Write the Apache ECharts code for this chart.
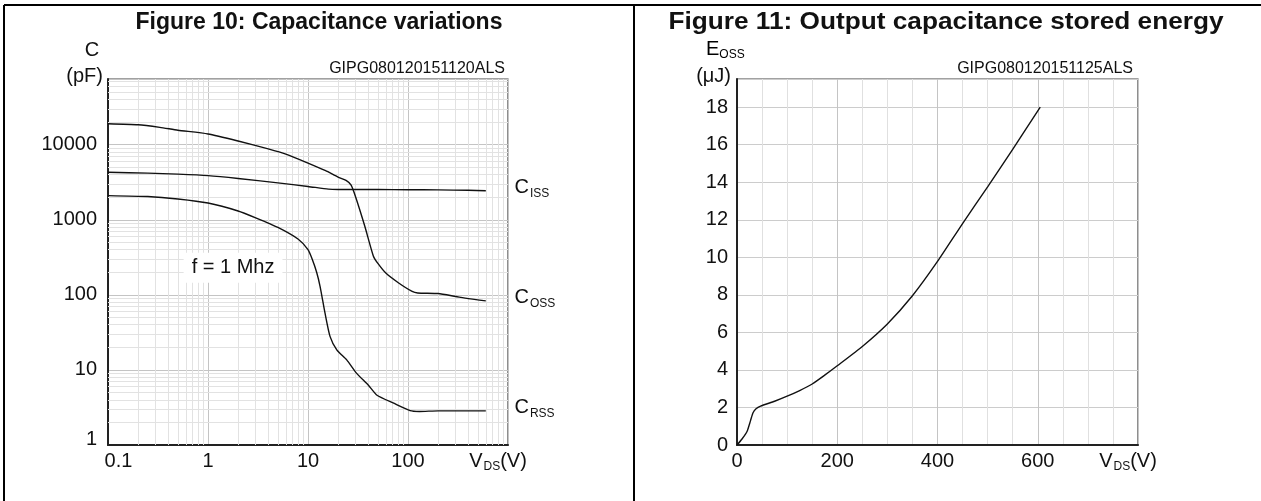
<!DOCTYPE html>
<html><head><meta charset="utf-8">
<script src="https://cdn.jsdelivr.net/npm/echarts@6/dist/echarts.min.js"></script>
<style>html,body{margin:0;padding:0;background:#fff}#c{width:1261px;height:501px}</style>
</head><body><div id="c"></div>
<script>
// ---------- Figure 10: capacitance vs VDS (log-log) ----------
const cissV = [0.1, 0.25, 0.5, 1, 2, 5, 10, 16, 20, 50, 100, 200, 400, 600];
const cissC = [4300, 4180, 4050, 3870, 3550, 3100, 2780, 2560, 2530, 2525, 2515, 2500, 2470, 2440];
const cossV = [0.1, 0.2, 0.33, 0.5, 1, 2, 4, 6, 10, 15, 20, 24, 27, 30, 37, 45, 50, 60, 80, 110, 125, 200, 300, 400, 600];
const cossC = [19000, 18400, 17000, 15600, 13900, 11200, 8800, 7500, 5700, 4500, 3700, 3350, 2900, 2000, 820, 330, 262, 195, 145, 111, 106, 104, 95, 89, 83];
const crssV = [0.1, 0.25, 0.5, 1, 2, 3, 5, 8, 10, 11, 12.2, 13.2, 14.8, 16.6, 19.4, 24.4, 30.7, 40, 49, 72, 105, 130, 200, 400, 600];
const crssC = [2100, 2040, 1890, 1670, 1310, 1060, 790, 550, 400, 300, 200, 130, 57, 28, 18.5, 13.6, 9.0, 6.3, 4.6, 3.6, 2.87, 2.8, 2.85, 2.85, 2.85];
const capXLabels = ['0.1', '1', '10', '100'];
const capYLabels = ['1', '10', '100', '1000', '10000'];
const capXRange = [0.1, 1000];
const capYRange = [1, 75000];

// ---------- Figure 11: Eoss vs VDS ----------
const eossV = [0, 10, 20, 27, 32, 38, 47, 75, 100, 125, 150, 175, 200, 250, 300, 350, 400, 450, 500, 550, 605];
const eossE = [0, 0.32, 0.72, 1.3, 1.72, 1.93, 2.07, 2.33, 2.6, 2.9, 3.25, 3.72, 4.22, 5.25, 6.45, 7.95, 9.78, 11.8, 13.75, 15.75, 18.0];
const eXLabels = ['0', '200', '400', '600'];
const eYLabels = ['0', '2', '4', '6', '8', '10', '12', '14', '16', '18'];
const eXRange = [0, 800];
const eYRange = [0, 19.5];

const FONT = '"Liberation Sans", Arial, Helvetica, sans-serif';
const INK = '#111';
const pairs = (xs, ys) => xs.map((x, i) => [x, ys[i]]);
const isPow10 = v => Math.abs(Math.log10(v) - Math.round(Math.log10(v))) < 1e-6;

// log minor gridline positions (2..9 per decade)
const minorX = [], minorY = [];
for (let d = -1; d < 3; d++) for (let m = 2; m <= 9; m++) minorX.push(+(m * Math.pow(10, d)).toPrecision(6));
for (let d = 0; d < 5; d++) for (let m = 2; m <= 9; m++) { const v = m * Math.pow(10, d); if (v < capYRange[1]) minorY.push(v); }

const subRich = {
  v: { fontSize: 20, fontFamily: FONT, color: INK, lineHeight: 22, verticalAlign: 'top' },
  s: { fontSize: 12, fontFamily: FONT, color: INK, lineHeight: 12, padding: [13, 0, 0, 1], verticalAlign: 'bottom' },
  e: { fontSize: 20, fontFamily: FONT, color: INK, lineHeight: 22, verticalAlign: 'top', padding: [0, 20, 0, 0] },
  f: { fontSize: 20, fontFamily: FONT, color: INK, padding: [0, 0, 0, 21] },
  b: { fontSize: 20, fontFamily: FONT, color: INK, padding: [0, 0, 12, 0] }
};
const curveRich = {
  c: { fontSize: 20, fontFamily: FONT, color: INK, lineHeight: 22, verticalAlign: 'top' },
  s: { fontSize: 12, fontFamily: FONT, color: INK, lineHeight: 12, padding: [14, 0, 0, 1], verticalAlign: 'bottom' }
};

function capXFmt(v) {
  if (!isPow10(v)) return '';
  const k = Math.round(Math.log10(v)) + 1;
  if (k === 0) return '{f|' + capXLabels[0] + '}';
  if (k === 4) return '{v|V}{s|DS}{e|(V)}';
  return capXLabels[k] || '';
}
function capYFmt(v) {
  if (!isPow10(v)) return '';
  const k = Math.round(Math.log10(v));
  if (k === 0) return '{b|' + capYLabels[0] + '}';
  return capYLabels[k] || '';
}
function eXFmt(v) {
  if (v === eXRange[1]) return '{v|V}{s|DS}{e|(V)}';
  const k = v / 200;
  return Number.isInteger(k) && eXLabels[k] !== undefined ? eXLabels[k] : '';
}
function eYFmt(v) {
  const k = v / 2;
  return Number.isInteger(k) && eYLabels[k] !== undefined ? eYLabels[k] : '';
}

const lineStyle = { color: INK, width: 1.4 };
function curveLabel(name, lastVal) {
  return {
    silent: true, animation: false, symbol: 'circle', symbolSize: 1, z: 6,
    itemStyle: { color: 'rgba(0,0,0,0)' },
    label: { show: true, position: 'right', distance: 6, offset: [0, -2], formatter: '{c|C}{s|' + name + '}', rich: curveRich },
    data: [{ coord: [capXRange[1], lastVal] }]
  };
}

const chart = echarts.init(document.getElementById('c'), null, { renderer: 'canvas' });
const axisLbl = { fontSize: 20, fontFamily: FONT, color: INK };
chart.setOption({
  animation: false,
  backgroundColor: '#fff',
  grid: [
    { left: 108, top: 79, width: 400, height: 366, show: true, borderColor: '#444', borderWidth: 1.2, backgroundColor: 'transparent', outerBoundsMode: 'none', containLabel: false },
    { left: 737, top: 79, width: 401, height: 366, show: true, borderColor: '#444', borderWidth: 1.2, backgroundColor: 'transparent', outerBoundsMode: 'none', containLabel: false }
  ],
  xAxis: [
    { type: 'log', logBase: 10, gridIndex: 0, min: capXRange[0], max: capXRange[1],
      axisLine: { show: true, lineStyle: { color: '#222', width: 2 } }, axisTick: { show: false },
      axisLabel: Object.assign({ margin: 6, formatter: capXFmt, rich: subRich, showMinLabel: true, showMaxLabel: true, hideOverlap: false }, axisLbl),
      splitLine: { show: true, lineStyle: { color: '#c4c4c4', width: 1 } } },
    { type: 'value', gridIndex: 1, min: eXRange[0], max: eXRange[1], interval: 200,
      axisLine: { show: true, onZero: false, lineStyle: { color: '#222', width: 2 } }, axisTick: { show: false },
      axisLabel: Object.assign({ margin: 6, formatter: eXFmt, rich: subRich, showMinLabel: true, showMaxLabel: true, hideOverlap: false }, axisLbl),
      splitLine: { show: true, lineStyle: { color: '#c4c4c4', width: 1 } },
      minorTick: { show: false, splitNumber: 4 },
      minorSplitLine: { show: true, lineStyle: { color: '#e0e0e0', width: 1 } } }
  ],
  yAxis: [
    { type: 'log', logBase: 10, gridIndex: 0, min: capYRange[0], max: capYRange[1],
      axisLine: { show: true, lineStyle: { color: '#222', width: 2 } }, axisTick: { show: false },
      axisLabel: Object.assign({ margin: 11, formatter: capYFmt, rich: subRich, showMinLabel: true, showMaxLabel: false, hideOverlap: false }, axisLbl),
      splitLine: { show: true, lineStyle: { color: '#c4c4c4', width: 1 } } },
    { type: 'value', gridIndex: 1, min: eYRange[0], max: eYRange[1], interval: 2,
      axisLine: { show: true, onZero: false, lineStyle: { color: '#222', width: 2 } }, axisTick: { show: false },
      axisLabel: Object.assign({ margin: 9, formatter: eYFmt, showMinLabel: true, showMaxLabel: false, hideOverlap: false }, axisLbl),
      splitLine: { show: true, lineStyle: { color: '#cccccc', width: 1 } } }
  ],
  series: [
    { // log minor gridlines for figure 10
      type: 'line', xAxisIndex: 0, yAxisIndex: 0, z: 1, silent: true, showSymbol: false,
      data: [[1, 1]], lineStyle: { opacity: 0 },
      markLine: {
        z: 1, silent: true, animation: false, symbol: ['none', 'none'], label: { show: false },
        lineStyle: { color: '#e2e2e2', width: 1, type: 'solid' }, emphasis: { disabled: true },
        data: minorX.map(v => ({ xAxis: v })).concat(minorY.map(v => ({ yAxis: v })))
      }
    },
    { name: 'Ciss', type: 'line', xAxisIndex: 0, yAxisIndex: 0, z: 3, data: pairs(cissV, cissC), showSymbol: false, smooth: 0.2, lineStyle, markPoint: curveLabel('ISS', cissC[cissC.length - 1]) },
    { name: 'Coss', type: 'line', xAxisIndex: 0, yAxisIndex: 0, z: 3, data: pairs(cossV, cossC), showSymbol: false, smooth: 0.2, lineStyle, markPoint: curveLabel('OSS', cossC[cossC.length - 1]) },
    { name: 'Crss', type: 'line', xAxisIndex: 0, yAxisIndex: 0, z: 3, data: pairs(crssV, crssC), showSymbol: false, smooth: 0.2, lineStyle,
      markPoint: curveLabel('RSS', crssC[crssC.length - 1]) },
    { // frequency note
      type: 'line', xAxisIndex: 0, yAxisIndex: 0, z: 5, silent: true, showSymbol: false, data: [[1, 1]], lineStyle: { opacity: 0 },
      markPoint: { z: 6, silent: true, animation: false, symbol: 'circle', symbolSize: 1, itemStyle: { color: 'rgba(0,0,0,0)' },
        label: { show: true, position: 'inside', formatter: 'f = 1 Mhz', fontSize: 20, fontFamily: FONT, color: INK, backgroundColor: '#fff', padding: [5, 8, 5, 8] },
        data: [{ coord: [1.78, 229] }] }
    },
    { name: 'Eoss', type: 'line', xAxisIndex: 1, yAxisIndex: 1, z: 3, data: pairs(eossV, eossE), showSymbol: false, smooth: 0.2, lineStyle }
  ],
  graphic: [
    { type: 'line', silent: true, shape: { x1: 4, y1: 5, x2: 1261, y2: 5 }, style: { stroke: '#000', lineWidth: 2 } },
    { type: 'line', silent: true, shape: { x1: 4, y1: 5, x2: 4, y2: 501 }, style: { stroke: '#000', lineWidth: 2 } },
    { type: 'line', silent: true, shape: { x1: 634, y1: 5, x2: 634, y2: 501 }, style: { stroke: '#000', lineWidth: 2 } },
    { type: 'text', silent: true, style: { text: 'Figure 10: Capacitance variations', x: 319, y: 23, textAlign: 'center', textVerticalAlign: 'middle', font: 'bold 23px ' + FONT, fill: INK } },
    { type: 'text', silent: true, x: 946, y: 23, scaleX: 1.14, style: { text: 'Figure 11: Output capacitance stored energy', x: 0, y: 0, textAlign: 'center', textVerticalAlign: 'middle', font: 'bold 23px ' + FONT, fill: INK } },
    { type: 'text', silent: true, style: { text: 'C', x: 92, y: 50, textAlign: 'center', textVerticalAlign: 'middle', font: '20px ' + FONT, fill: INK } },
    { type: 'text', silent: true, style: { text: '(pF)', x: 103, y: 76, textAlign: 'right', textVerticalAlign: 'middle', font: '20px ' + FONT, fill: INK } },
    { type: 'text', silent: true, style: { text: 'GIPG080120151120ALS', x: 505, y: 69, textAlign: 'right', textVerticalAlign: 'middle', font: '16px ' + FONT, fill: INK } },
    { type: 'text', silent: true, style: { text: '{a|E}{s|OSS}', x: 706, y: 50, textAlign: 'left', textVerticalAlign: 'middle',
        rich: { a: { fontSize: 20, fontFamily: FONT, color: INK, lineHeight: 22, verticalAlign: 'top' }, s: { fontSize: 12, fontFamily: FONT, color: INK, lineHeight: 12, padding: [12, 0, 0, 0], verticalAlign: 'bottom' } } } },
    { type: 'text', silent: true, style: { text: '(μJ)', x: 731, y: 76, textAlign: 'right', textVerticalAlign: 'middle', font: '20px ' + FONT, fill: INK } },
    { type: 'text', silent: true, style: { text: 'GIPG080120151125ALS', x: 1133, y: 69, textAlign: 'right', textVerticalAlign: 'middle', font: '16px ' + FONT, fill: INK } }
  ]
});
</script></body></html>
